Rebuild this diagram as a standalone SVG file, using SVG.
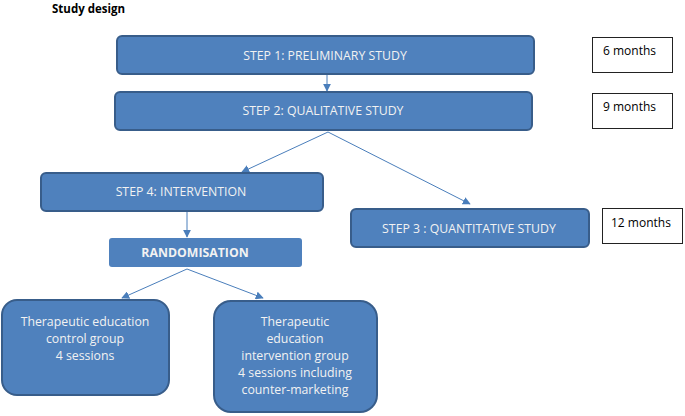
<svg xmlns="http://www.w3.org/2000/svg" width="685" height="416" viewBox="0 0 685 416">
<defs>
<marker id="ah" viewBox="0 0 10 10" refX="9" refY="5" markerWidth="8" markerHeight="8" markerUnits="userSpaceOnUse" orient="auto">
<path d="M0,0 L10,5 L0,10 z" fill="#4A7EBB"/>
</marker>
<style>
.box{fill:#4F81BD;stroke:#385D8A;stroke-width:2}
.t{font-family:"Open Sans","Liberation Sans",sans-serif;font-size:12.3px;fill:#F2F2F2;text-anchor:middle}
.b{font-weight:bold}
.m{fill:#fff;stroke:#222;stroke-width:1}
.mt{font-family:"Open Sans","Liberation Sans",sans-serif;font-size:12px;fill:#000}
.c{stroke:#4A7EBB;stroke-width:1;fill:none;marker-end:url(#ah)}
</style>
</defs>
<rect width="685" height="416" fill="#fff"/>
<text x="52" y="12.5" font-family="'Open Sans','Liberation Sans',sans-serif" font-size="11.5" font-weight="bold" fill="#000">Study design</text>
<g id="connectors">
<line class="c" x1="327" y1="74" x2="327" y2="91"/>
<line class="c" x1="328" y1="132" x2="242" y2="172"/>
<line class="c" x1="328" y1="132" x2="470" y2="204"/>
<line class="c" x1="187" y1="211" x2="187" y2="237"/>
<line class="c" x1="187" y1="269" x2="122" y2="298"/>
<line class="c" x1="187" y1="269" x2="263" y2="298"/>
</g>
<g id="step1">
<rect class="box" x="117" y="36" width="417" height="38" rx="5"/>
<text class="t" x="325" y="60">STEP 1: PRELIMINARY STUDY</text>
</g>
<g id="step2">
<rect class="box" x="115" y="92" width="417" height="38" rx="5"/>
<text class="t" x="323" y="115">STEP 2: QUALITATIVE STUDY</text>
</g>
<g id="m6">
<rect class="m" x="592.5" y="37.5" width="80" height="35"/>
<text class="mt" x="603" y="55">6 months</text>
</g>
<g id="m9">
<rect class="m" x="592.5" y="93.5" width="80" height="35"/>
<text class="mt" x="603" y="111">9 months</text>
</g>
<g id="step4">
<rect class="box" x="41" y="173" width="282" height="38" rx="5"/>
<text class="t" x="181" y="196">STEP 4: INTERVENTION</text>
</g>
<g id="randomisation">
<rect x="109" y="238" width="193" height="29" rx="3" fill="#4F81BD"/>
<text class="t b" x="195" y="257">RANDOMISATION</text>
</g>
<g id="step3">
<rect class="box" x="351" y="209" width="238" height="38" rx="5"/>
<text class="t" x="469" y="233">STEP 3 : QUANTITATIVE STUDY</text>
</g>
<g id="m12">
<rect class="m" x="602.5" y="208.5" width="80" height="35"/>
<text class="mt" x="611" y="227">12 months</text>
</g>
<g id="control">
<rect class="box" x="2" y="300" width="167" height="95" rx="15"/>
<text class="t" x="85" y="326">Therapeutic education</text>
<text class="t" x="85" y="343">control group</text>
<text class="t" x="85" y="360">4 sessions</text>
</g>
<g id="intervention">
<rect class="box" x="214" y="301" width="163" height="111" rx="17"/>
<text class="t" x="295" y="326">Therapeutic</text>
<text class="t" x="295" y="343">education</text>
<text class="t" x="295" y="360">intervention group</text>
<text class="t" x="295" y="377">4 sessions including</text>
<text class="t" x="295" y="394">counter-marketing</text>
</g>
</svg>
